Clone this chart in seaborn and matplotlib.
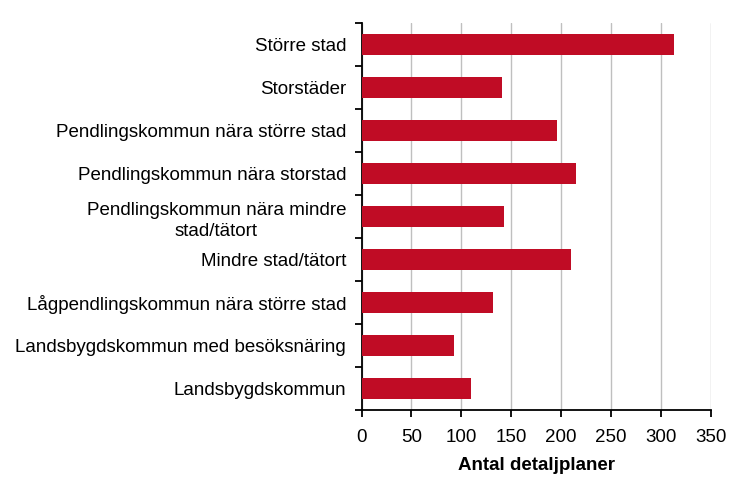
import numpy as np
import pandas as pd
import matplotlib
matplotlib.use("Agg")
import matplotlib.pyplot as plt
import seaborn as sns

kategorier = [
    "Större stad",
    "Storstäder",
    "Pendlingskommun nära större stad",
    "Pendlingskommun nära storstad",
    "Pendlingskommun nära mindre\nstad/tätort",
    "Mindre stad/tätort",
    "Lågpendlingskommun nära större stad",
    "Landsbygdskommun med besöksnäring",
    "Landsbygdskommun",
]
antal = [312.5, 140.5, 195.5, 214.5, 142.5, 209.5, 131.5, 92.5, 110]
x_ticks = [0, 50, 100, 150, 200, 250, 300, 350]

df = pd.DataFrame({"kategori": kategorier, "antal": antal})

sns.set_style("white")
plt.rcParams["font.family"] = ["Liberation Sans", "DejaVu Sans"]
plt.rcParams["text.color"] = "black"
plt.rcParams["xtick.color"] = "black"
plt.rcParams["ytick.color"] = "black"
plt.rcParams["axes.labelcolor"] = "black"

fig = plt.figure(figsize=(7.5, 4.96), dpi=100)
ax = fig.add_axes([0.482, 0.173, 0.466, 0.781])

sns.barplot(data=df, x="antal", y="kategori", color="#C00C25", width=0.48,
            saturation=1, linewidth=0, ax=ax, zorder=3)

ax.set_xlim(0, 350)
ax.set_ylim(len(kategorier) - 0.5, -0.5)
ax.set_xticks(x_ticks)
ax.xaxis.grid(True, color="#BFBFBF", linewidth=1, zorder=0)
ax.set_axisbelow(True)

for s in ["top", "right"]:
    ax.spines[s].set_visible(False)
for s in ["left", "bottom"]:
    ax.spines[s].set_color("black")
    ax.spines[s].set_linewidth(1.3)

ax.tick_params(axis="x", bottom=True, direction="out", length=5, width=1.3,
               labelsize=13.5, pad=8.5)
ax.tick_params(axis="y", which="major", left=True, length=0, labelsize=13.5, pad=11)
ax.set_yticks(np.arange(-0.5, len(kategorier), 1), minor=True)
ax.tick_params(axis="y", which="minor", left=True, direction="out", length=5,
               width=1.3)
for lbl in ax.get_yticklabels():
    lbl.set_multialignment("center")
    lbl.set_linespacing(1.35)

ax.set_ylabel("")
ax.set_xlabel("Antal detaljplaner", fontsize=13.5, fontweight="bold", labelpad=8)

fig.savefig("out.png", dpi=100)
